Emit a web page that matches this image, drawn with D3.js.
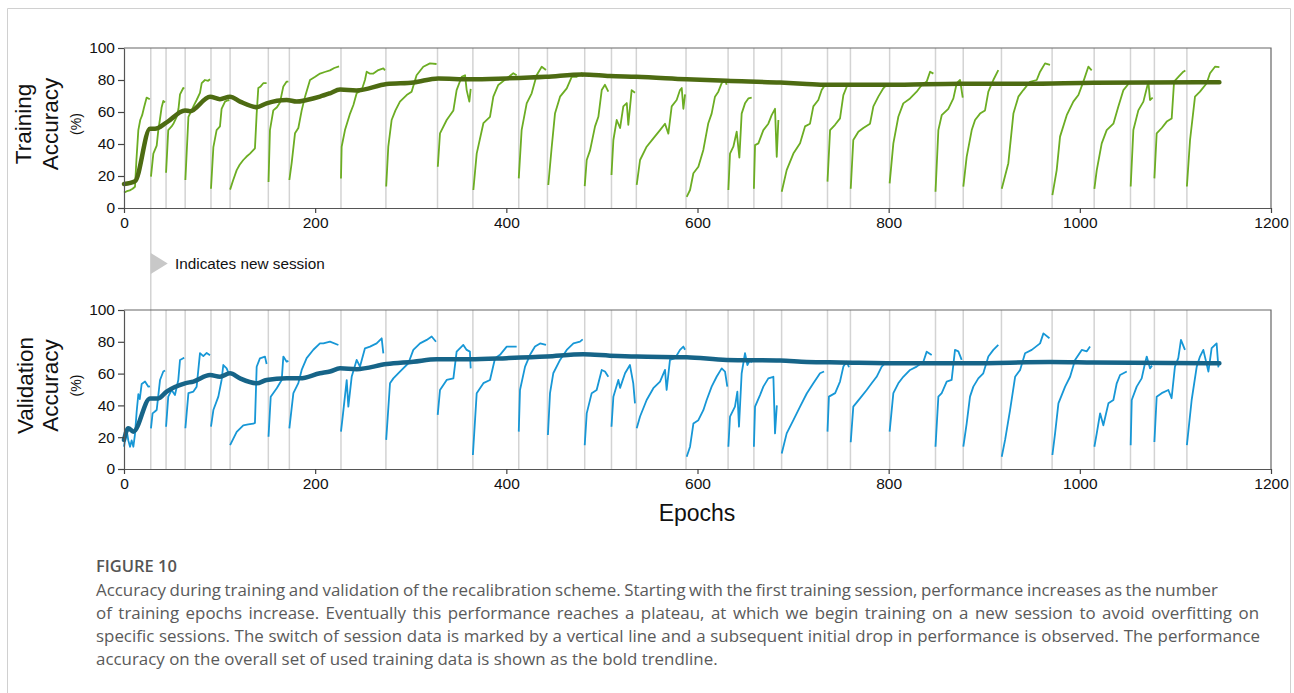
<!DOCTYPE html>
<html><head><meta charset="utf-8">
<script src="https://cdn.jsdelivr.net/npm/d3@7"></script>
<style>body{margin:0;background:#fff}svg{display:block}</style>
</head><body>
<svg id="c" width="1294" height="693"></svg>
<script>
// ---------------- DATA ----------------
const sessionStarts = [28, 44, 64, 91, 111, 151, 173, 227, 274, 328, 365, 413, 443, 482, 510, 536, 588, 632, 659, 688, 736, 760, 801, 849, 878, 918, 971, 1015, 1053, 1078, 1112];
const xTicks = [0, 200, 400, 600, 800, 1000, 1200];
const yTicks = [0, 20, 40, 60, 80, 100];

const trainRaw = [
 [0,9.6],[3,10.5],[6,11],[9,12],[11.5,13.3],[13,30],[15,48.7],[17,55],[19,58],[21,63],[23.7,69],[27,68],
 [28.2,19.6],[30.7,34],[34.2,39],[35.9,48.7],[37.5,55],[39.4,63],[41.1,66.9],[43,66],
 [44,22],[46.3,48.7],[49.8,51],[52,53],[55.1,57],[57,62],[58.6,71],[62,75],[63,74.5],
 [64.2,17.5],[67.4,57],[70.8,61],[73,64],[76,67.5],[79.5,72],[81.3,78],[84.7,80],[88,79.5],[90,80.5],
 [91,12],[93.5,38],[96.9,48.7],[100.4,51],[102.1,62],[105.7,66.5],[109.2,67.5],[110,67],
 [111,11.5],[114,17],[117.9,23.7],[121,27],[124.8,30],[128,32],[131.8,34],[135,36],[137,37.3],[138.8,59],[140.5,75],[143,76],[145.7,78],[149.2,78],
 [151.2,16.2],[152.7,48.7],[156.2,61],[160,63],[163.2,66],[166.7,76],[170.2,79],[172,79],
 [173,17.5],[175.4,28],[178.9,46.7],[182.4,50],[185.9,61],[189.4,69.6],[194.6,80],[200,82],[205.1,84],[210,85],[215.5,86],[220,87.5],[225,88.5],
 [227,18.5],[227.7,38.3],[231.2,48.7],[236.5,59],[240,64.4],[243.4,71.7],[248.7,73.7],[252.1,80],[253.9,85.2],[257,84],[260.9,84],[266.1,86.2],[271.3,87.3],[273,86],
 [274.3,13.4],[276.5,38.3],[280,55],[284,61],[288.7,66.5],[295.7,70.6],[300.9,72.7],[306.1,83],[313.1,88.3],[320.1,90.4],[327,90],
 [328.3,25.8],[330.6,46.7],[337.6,55],[344.6,61],[348,73.7],[353.3,82],[356.8,83],[358.5,73.7],[361.3,66.5],[362.7,74.5],
 [365.5,11.25],[369,34],[376,53],[382.9,57],[386.4,69.6],[391.6,76.9],[400.4,81],[407.3,84.2],[410.8,83],
 [413,18.5],[416,48.7],[421.3,65.4],[426.5,71.7],[431.7,83],[437,88.3],[441.5,86.2],
 [443.9,14.4],[447.5,38.3],[450.9,59],[456.2,69.6],[463.2,74.8],[468.4,82],[473.6,82],[478.8,84.2],[480,82],
 [482,13.7],[484.1,30],[487.6,36],[492.8,51],[496.3,57],[499.8,73.7],[503.2,77],[506.7,72.7],
 [510,20.6],[512,42.5],[515.5,55],[519,50],[522.4,63.5],[526,65.6],[527.6,52],[531.1,73.7],[534.6,72],
 [536.4,14.4],[539.9,30],[546.8,38.3],[553.8,43.5],[560.8,48.7],[566,52.7],[569.5,46.5],[573,63.5],[578.2,67.5],[581.7,73.7],[583.5,75],[585.2,62],[587,71],
 [588.7,7],[592.2,11.25],[595.7,21.7],[600.9,25.8],[606.1,36.3],[611.3,53],[614.8,59],[618.3,69.6],[621.8,72.7],[625.3,78],[628.8,80],[630.5,77],
 [632.3,11.25],[634,34],[637.5,38.3],[641,47.7],[643.8,31.5],[646.2,59],[649.7,65.4],[653.2,68.5],[656.7,69],
 [659,12],[660.2,39.3],[663.7,40.4],[668.9,48.7],[674.1,52.7],[677.6,58],[681.1,62],[682.9,32],[684.6,55],
 [688.1,10.2],[693.3,23.7],[700.3,34],[707.3,40.4],[712.5,51],[717.7,52.7],[721.2,63.5],[726.4,67.5],[729.9,73.7],[733.4,76.9],
 [736,16.5],[738.7,48.7],[743.9,52],[749.1,56],[752.6,70.6],[756.1,75.8],[758,76.5],
 [760.3,12],[763,42.5],[768.3,47.7],[773.5,50],[780.5,52.7],[784,63.5],[789.2,69.6],[794.4,74.8],[797.9,77],
 [801,15.4],[804.9,40.4],[810.1,57],[815.3,65.4],[822.4,68.5],[829.3,72.7],[834.6,76.9],[839.8,79],[843.3,85.2],[846.8,84],
 [849,10.2],[852,48.7],[855.5,58],[862.4,62],[867.7,68.5],[871.2,78],[874.7,80],[877.5,69],
 [878.1,13.4],[881.6,32],[886.9,48.7],[890.4,55],[895.6,59],[900.8,61],[904.3,72.7],[909.5,80],[914.7,86.2],
 [918.3,12],[925.2,28],[930.5,59],[935.7,69.6],[940.9,73.7],[947.9,78.9],[954.9,80],[958.4,85.2],[963.6,90.4],[968.8,89.5],
 [971.3,8.1],[975.8,23.7],[979.3,44.6],[986.3,58],[993.2,66.5],[998.5,70.6],[1003.7,79],[1008.9,88.3],[1012.4,86],
 [1015.2,12],[1017.7,23.7],[1022.9,40.4],[1028.1,48.7],[1035.1,52.7],[1040.3,63.5],[1045.6,73.7],[1050.8,77.5],
 [1053.2,13.4],[1056,48.7],[1061.2,61],[1066.5,66.5],[1070,74.8],[1071.7,79],[1073.4,67.5],[1076.2,69],
 [1078,18.5],[1080.4,46.7],[1085.7,50],[1090.9,54],[1096.1,56],[1098.6,79],[1103.1,82],[1108.3,85.2],[1110.4,86],
 [1112,13.4],[1115.3,42.5],[1120.5,69.6],[1125.7,72.7],[1132.7,78],[1136.2,84.2],[1141.4,88.3],[1146,88]
];

const trainTrend = [
 [0,15],[11.5,16.7],[27.2,49.6],[32.4,49.5],[44.6,53.5],[63.8,61],[69,60.5],[90,69.6],[100.4,68],[110.9,69.6],[121.4,66.5],[138.8,63],[149.2,65.4],[170.2,67.5],[180.6,66.5],[191.1,67.5],[205,69.6],[215.5,71.7],[226,74],[243,73.5],[274.8,77.5],[303,78.5],[328.8,81],[362,80.4],[400,81],[441.5,82],[480,83.5],[508,82.5],[536,82],[588.7,80.5],[630.5,79.5],[686.5,78.4],[714.4,77.5],[735,77],[801,77],[874.7,77.7],[944.5,77.7],[1014.3,78.3],[1146,78.6]
];

const valRaw = [
 [0,14],[2.8,24.5],[4.5,18],[6.3,14],[8,18],[9.8,14],[11.5,22],[13.3,36.5],[15,47],[16.5,44],[18.5,53.5],[22,55],[25.5,51.8],[27.2,52],
 [28.2,25.6],[29.9,35],[32,36],[34.2,37.1],[37.7,56],[41.1,61.3],[43,62],
 [44,26.6],[46.3,45.5],[49.8,49.7],[53.3,46.5],[56.8,56],[58.6,68.6],[62,69.7],[63,70],
 [64.2,25.6],[67.4,47.7],[72.6,48.7],[76,51.8],[79.5,72.9],[83,71],[86.5,73],[90,71.6],
 [91,26.6],[93.5,37.1],[98.7,45.5],[102.1,56],[103.9,65.4],[107.4,63.3],[110.2,59],
 [111,15],[117.9,23.3],[124.8,27.5],[130,28],[135.3,28.5],[137,29],[138.8,64.3],[142.2,69.6],[147.5,70.7],[149.2,66],
 [151.2,20.3],[153.5,45.5],[159.8,50.8],[165,56],[166.7,70.7],[170.2,67.5],[172,68],
 [173,25.6],[177.2,47.7],[182.4,54],[185.9,62.3],[191.1,69.7],[198.1,75],[205,79],[208.6,79],[215.5,80.1],[224.3,78],
 [227,23.5],[228.8,32.9],[233,55.9],[234.7,39.2],[238.2,58],[243.4,68.6],[246.9,64.4],[252.1,75.9],[257.4,77],[264.3,79],[269.6,82.2],[271.3,72.7],
 [274.3,18.3],[278.3,53.9],[281.8,57],[288.7,61.3],[297.5,66.5],[302.7,74.9],[309.7,79],[316.7,81.2],[321.9,83.3],[326.4,80],
 [328.2,34],[330.6,49.7],[337.6,56],[344.6,57],[348,73.8],[355,78],[358.5,74.9],[361.9,73.8],[362.7,63.3],
 [365,8.8],[369,47.7],[376,54],[382.9,56],[388.2,69.7],[393.4,71.8],[400.4,77],[407.3,77],[410.8,77],
 [413,23.5],[414.3,49.7],[419.6,64.4],[424.8,71.8],[430,77],[435.3,79],[441.5,78],
 [443.5,21.4],[445.7,47.7],[449.1,60.2],[456.2,68.6],[463.2,74.9],[470.2,79],[477.1,80.1],[479.9,81.5],
 [482,14.9],[484.1,35],[489.3,47.7],[494.5,49.7],[499.8,62.3],[503.2,61.3],[506.7,58],
 [510,26.6],[512,45.5],[517.2,56],[519,51],[524.2,60.2],[529.3,65.4],[532.8,53.9],[534.6,41.3],
 [536.4,25.6],[539.9,33],[546.8,43.4],[553.8,50.8],[560.8,55],[566,62.3],[567.7,49.7],[571.2,68.6],[576.5,69.7],[581.7,74.9],[585.2,77],[587,75],
 [588.7,7.7],[592.2,14],[595.7,28.6],[600.9,30.7],[606.1,37],[609.6,43.4],[614.8,51.8],[620,58],[625.3,63.3],[628.8,61.3],[631.2,51.8],
 [632.3,14],[634,32.9],[639.2,39.2],[641.7,48.7],[643.4,26.6],[646.2,60.2],[649.7,72.8],[652.2,65.4],[655,68.6],[656.7,67],
 [659,14],[660.2,39.2],[665.4,46.5],[668.9,51.8],[674.1,57],[679.4,58],[681.1,22.4],[683,40],
 [688.1,9.8],[693.3,22.4],[700.3,30.7],[707.3,39.2],[714.3,47.5],[721.2,53.9],[728.2,60.2],[732.4,61.3],
 [736,23.5],[737.5,45.5],[744,47.7],[749.1,55],[752.6,64.4],[756.1,67.5],[758.5,64],
 [760.3,16.8],[763,39.2],[770,44.4],[777,49.7],[782.2,53.9],[787.4,58],[792.7,64.4],[796.1,66.5],[798,67.5],
 [801,23.5],[804.9,47.7],[810.1,53.9],[815.3,58],[822.4,62.3],[829.3,64.4],[836.3,67.5],[839.8,73.8],[845,71.7],
 [849,14],[852,45.5],[855.5,47.7],[860.7,55],[865.9,56],[869.4,74.9],[872.9,74],[876.4,68.6],
 [878.1,14],[881.6,28.6],[885.1,45.5],[888.6,51.8],[893.8,57],[899,60.2],[904.3,70.7],[909.5,74.9],[914.7,78],
 [918.3,7.7],[921.8,18.3],[927,37],[932.3,58],[937.5,62.3],[942.7,72.8],[949.7,74.9],[958.4,79],[961.9,85.3],[968.2,82.2],
 [971.3,8.8],[974.1,22.4],[977.6,41.3],[984.6,51.8],[989.8,58],[995,68.6],[1002,74.9],[1007.3,74],[1010.7,77],
 [1015.2,14],[1017.7,22.4],[1021.2,35],[1024.6,27.5],[1029.9,41.3],[1035.1,43.4],[1038.6,53.9],[1042.1,59.1],[1049.1,61.3],
 [1053.2,15],[1054.3,43.4],[1059.5,51.8],[1064.7,57],[1068.2,66.5],[1070,70.7],[1073.4,63.3],[1075.5,65],
 [1078,17],[1080.4,45.5],[1085.6,47.7],[1092.6,49.7],[1096,44.5],[1099.5,64.4],[1103,69.7],[1105.8,81.2],[1110,74.9],
 [1112,15],[1117,43.4],[1122.3,64.4],[1125.7,70.7],[1129.2,74.9],[1134.5,61.3],[1137.9,76],[1143.1,79],[1144.9,64.4],[1146,67.5]
];

const valTrend = [
 [0,18.3],[4.5,25.6],[9.8,23.5],[27.2,44.4],[35.9,44.4],[44.6,48.7],[63.8,53.9],[72.6,55],[90,59.1],[100.4,58],[110.9,60.2],[121.4,57],[138.8,53.9],[149.2,56],[170.2,57],[184.1,57],[205,60.2],[215.5,61.3],[226,63.3],[243.4,62.8],[274.8,66],[302.7,67.5],[327.1,69],[362,69],[400.4,69.7],[442.1,70.7],[480.5,72.1],[508.4,71.3],[536.4,70.7],[588.7,70.3],[630.5,68.6],[686.5,68.2],[714.4,67.3],[749.1,67],[819,66.5],[885,66.5],[968.8,67.3],[1014.3,67],[1146,66.5]
];

const xTitle = "Epochs";
const legendText = "Indicates new session";
const captionTitle = "FIGURE 10";
const captionLines = [
 "Accuracy during training and validation of the recalibration scheme. Starting with the first training session, performance increases as the number",
 "of training epochs increase. Eventually this performance reaches a plateau, at which we begin training on a new session to avoid overfitting on",
 "specific sessions. The switch of session data is marked by a vertical line and a subsequent initial drop in performance is observed. The performance",
 "accuracy on the overall set of used training data is shown as the bold trendline."
];

// ---------------- DRAW ----------------
const svg = d3.select("#c");
const FONT = "'Liberation Sans', Arial, Helvetica, sans-serif";

// outer frame
svg.append("path").attr("d","M7.5,700 V8.5 H1290.5 V700")
  .attr("fill","none").attr("stroke","#d0d0d0").attr("stroke-width",1);

const x = d3.scaleLinear().domain([0,1200]).range([124,1271]);
const panels = [
  {y: d3.scaleLinear().domain([0,100]).range([208,48]), raw: trainRaw, trend: trainTrend,
   rawColor:"#6cad23", trendColor:"#4d6b12", t1:"Training", t1x:31},
  {y: d3.scaleLinear().domain([0,100]).range([469,310]), raw: valRaw, trend: valTrend,
   rawColor:"#1797d6", trendColor:"#166488", t1:"Validation", t1x:33}
];

function segments(points){
  return d3.groups(points, p => d3.bisectRight(sessionStarts, p[0])).map(d => d[1]);
}

// long session marker line for first session spanning both panels
svg.append("line").attr("x1",x(sessionStarts[0])).attr("x2",x(sessionStarts[0]))
  .attr("y1",panels[0].y(100)).attr("y2",panels[1].y(0))
  .attr("stroke","#d3d3d3").attr("stroke-width",1.5);

panels.forEach(p => {
  const g = svg.append("g");
  const [y0,y1] = [p.y(0), p.y(100)];
  g.selectAll("line.s").data(sessionStarts.slice(1)).join("line")
    .attr("x1",d=>x(d)).attr("x2",d=>x(d)).attr("y1",y1).attr("y2",y0)
    .attr("stroke","#d3d3d3").attr("stroke-width",1.5);
  g.append("path").attr("d",`M${x(0)},${y1}H${x(1200)}V${y0}`).attr("fill","none")
    .attr("stroke","#666").attr("stroke-width",1.2);
  const line = d3.line().x(d=>x(d[0])).y(d=>p.y(d[1]));
  g.selectAll("path.raw").data(segments(p.raw)).join("path")
    .attr("d",line).attr("fill","none").attr("stroke",p.rawColor)
    .attr("stroke-width",1.8).attr("stroke-linejoin","round");
  g.append("path").datum(p.trend).attr("d",d3.line().x(d=>x(d[0])).y(d=>p.y(d[1])).curve(d3.curveMonotoneX))
    .attr("fill","none").attr("stroke",p.trendColor).attr("stroke-width",4.5)
    .attr("stroke-linecap","round").attr("stroke-linejoin","round");
  const ax = g.append("g").attr("transform",`translate(0,${y0})`)
    .call(d3.axisBottom(x).tickValues(xTicks).tickFormat(d3.format("d")).tickSize(5).tickPadding(4).tickSizeOuter(0));
  const ay = g.append("g").attr("transform",`translate(${x(0)},0)`)
    .call(d3.axisLeft(p.y).tickValues(yTicks).tickFormat(d3.format("d")).tickSize(6).tickPadding(3).tickSizeOuter(0));
  [ax,ay].forEach(a=>{
    a.selectAll("text").attr("font-family",FONT).attr("font-size",15.5).attr("fill","#111");
    a.selectAll("line").attr("stroke","#444").attr("stroke-width",1.2);
    a.select(".domain").attr("stroke","#555").attr("stroke-width",1.2);
  });
  const cy = (y0+y1)/2 - 4;
  const t = svg.append("g").attr("font-family",FONT).attr("fill","#111").attr("text-anchor","middle");
  t.append("text").attr("transform",`translate(${p.t1x},${cy}) rotate(-90)`).attr("font-size",22.5).text(p.t1);
  t.append("text").attr("transform",`translate(58,${cy}) rotate(-90)`).attr("font-size",22.5).text("Accuracy");
  t.append("text").attr("transform",`translate(81,${cy}) rotate(-90)`).attr("font-size",14).text("(%)");
});

svg.append("text").attr("x",697).attr("y",521).attr("text-anchor","middle")
  .attr("font-family",FONT).attr("font-size",23).attr("fill","#111").text(xTitle);

const lx = x(sessionStarts[0]);
svg.append("path").attr("d",`M${lx},253 L${lx+17},263.5 L${lx},274 Z`).attr("fill","#c8c8c8");
svg.append("text").attr("x",175).attr("y",269).attr("font-family",FONT).attr("font-size",15.3)
  .attr("fill","#111").text(legendText);

// caption
const CF = "'Open Sans', 'Noto Sans', sans-serif";
svg.append("text").attr("x",96).attr("y",572).attr("font-family",CF).attr("font-weight",600)
  .attr("font-size",16.5).attr("fill","#555").text(captionTitle);
const targets = [1218, 1259, 1260, 718];
// choose font size so the last (unjustified) line has its natural width
const probe = svg.append("text").attr("font-family",CF).attr("font-size",15).text(captionLines[3]);
const capSize = 15 * (targets[3]-96) / probe.node().getComputedTextLength();
probe.remove();
captionLines.forEach((s,i)=>{
  const t = svg.append("text").attr("x",96).attr("y",596+i*23).attr("font-family",CF)
    .attr("font-size",capSize).attr("fill","#5a5a5a").text(s);
  const w = t.node().getComputedTextLength();
  const n = (s.match(/ /g)||[]).length;
  if (i < 3) t.attr("word-spacing", ((targets[i]-96) - w)/n);
});
</script>
</body></html>
